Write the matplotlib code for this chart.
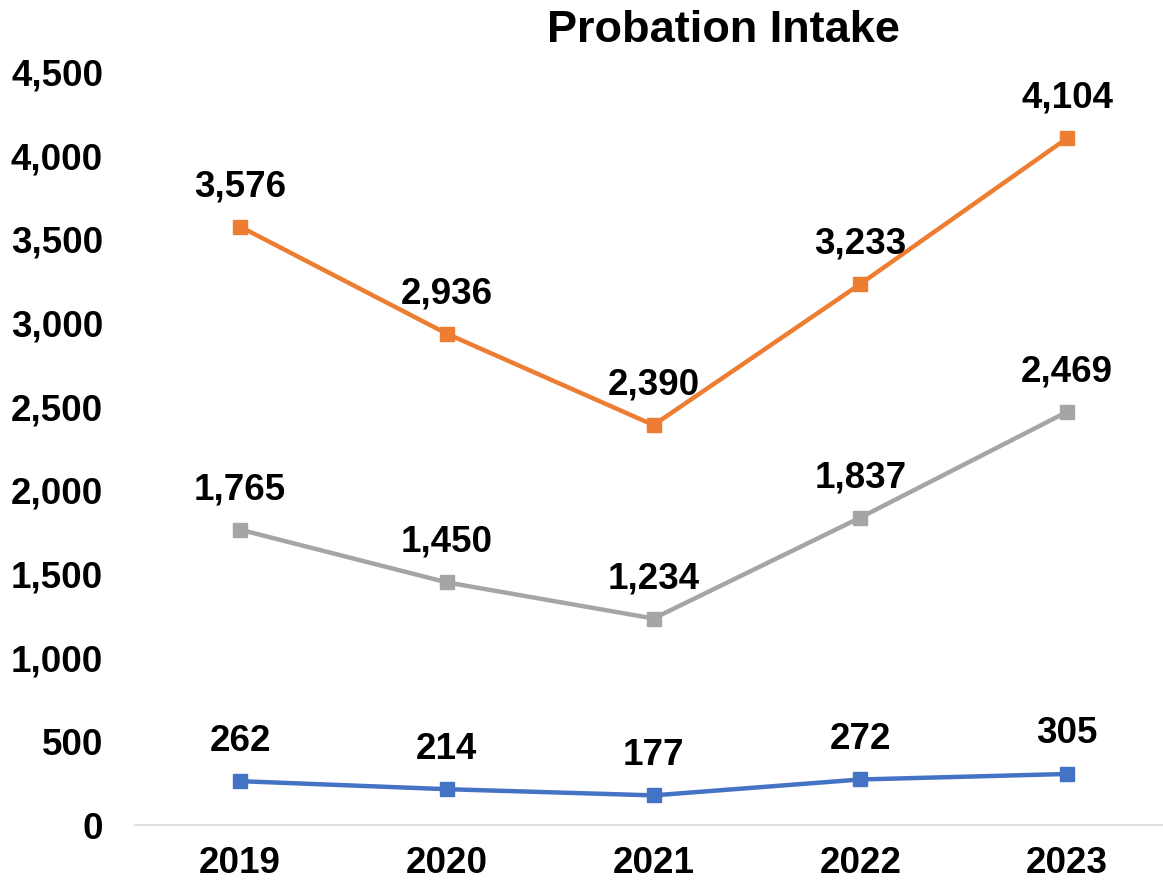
import matplotlib.pyplot as plt
from matplotlib.ticker import FuncFormatter

years = ['2019', '2020', '2021', '2022', '2023']
total = [3576, 2936, 2390, 3233, 4104]
grupo_gris = [1765, 1450, 1234, 1837, 2469]
grupo_azul = [262, 214, 177, 272, 305]

plt.rcParams['font.family'] = ['Liberation Sans', 'DejaVu Sans']
plt.rcParams['font.weight'] = 'bold'

fig = plt.figure(figsize=(11.63, 8.88), dpi=100)
ax = fig.add_axes([135 / 1163, 63 / 888, 1028 / 1163, 753 / 888])

x = list(range(len(years)))
series = [(total, '#ED7D31'), (grupo_gris, '#A5A5A5'), (grupo_azul, '#4472C4')]
for valores, color in series:
    ax.plot(x, valores, color=color, linewidth=3.2, marker='s', markersize=9.5)
    for xi, v in zip(x, valores):
        ax.annotate(f'{v:,}', (xi, v), xytext=(0, 40), textcoords='offset pixels',
                    ha='center', va='center', fontsize=26.5, fontweight='bold', color='black')

ax.set_xlim(-0.508, 4.464)
ax.set_ylim(0, 4500)
ax.set_yticks(range(0, 4501, 500))
ax.yaxis.set_major_formatter(FuncFormatter(lambda v, p: f'{int(v):,}'))
ax.set_xticks(x)
ax.set_xticklabels(years)
ax.tick_params(axis='both', length=0, labelsize=26.5)
ax.tick_params(axis='y', pad=23)
ax.tick_params(axis='x', pad=15)
for lab in ax.get_xticklabels() + ax.get_yticklabels():
    lab.set_fontweight('bold')

for s in ['top', 'right', 'left']:
    ax.spines[s].set_visible(False)
ax.spines['bottom'].set_color('#D9D9D9')
ax.spines['bottom'].set_linewidth(1.2)

fig.text(723 / 1163, 1 - 31 / 888, 'Probation Intake', ha='center', va='center',
         fontsize=32.5, fontweight='bold')

plt.savefig('out.png', dpi=100)
plt.close()
